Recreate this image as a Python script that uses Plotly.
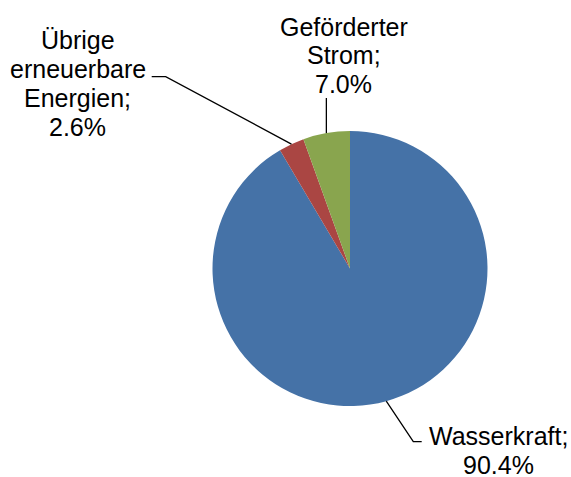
import math
import plotly.graph_objects as go

# Slice order (clockwise from 12 o'clock)
categories = ["Wasserkraft", "Übrige erneuerbare Energien", "Geförderter Strom"]
# Slice sizes as drawn in the picture (share of the circle, %)
slice_values = [91.5, 3.0, 5.5]
# Percentages printed in the data labels
label_percent = ["90.4%", "2.6%", "7.0%"]
# Label line breaks as in the picture
label_lines = [
    ["Wasserkraft;", label_percent[0]],
    ["Übrige", "erneuerbare", "Energien;", label_percent[1]],
    ["Geförderter", "Strom;", label_percent[2]],
]
colors = ["#4572A7", "#AA4643", "#89A54E"]

W, H = 571, 477
CX, CY, R = 350.0, 268.5, 137.5
FONT = dict(family="Liberation Sans, Arial, sans-serif", size=25, color="#000000")
LINE_STEP = 28.8


def px(x, y):
    return x / W, 1 - y / H


fig = go.Figure(
    go.Pie(
        labels=categories,
        values=slice_values,
        sort=False,
        direction="clockwise",
        rotation=0,
        marker=dict(colors=colors, line=dict(width=0)),
        textinfo="none",
        hoverinfo="label+percent",
        showlegend=False,
        domain=dict(
            x=[(CX - R) / W, (CX + R) / W],
            y=[1 - (CY + R) / H, 1 - (CY - R) / H],
        ),
    )
)

# Slice midpoints on the rim (computed from the data)
total = sum(slice_values)
mids = []
acc = 0.0
for v in slice_values:
    a = 2 * math.pi * (acc + v / 2) / total
    mids.append((CX + R * math.sin(a), CY - R * math.cos(a)))
    acc += v

# Label anchor settings: (center x, first line center y), leader elbow points
label_pos = [(498.5, 436.0), (78.0, 40.5), (344.0, 26.5)]
leader_paths = [
    [mids[0], (413.3, 441.7), (421.7, 441.7)],
    [mids[1], (165.7, 76.7), (151.7, 76.7)],
    [(mids[2][0], mids[2][1]), (mids[2][0], 98.0)],
]

shapes = []
for path in leader_paths:
    d = "M " + " L ".join(
        f"{px(x, y)[0]:.5f},{px(x, y)[1]:.5f}" for x, y in path
    )
    shapes.append(
        dict(type="path", xref="paper", yref="paper", path=d,
             line=dict(color="#000000", width=1.3))
    )

annotations = []
for (lx, ly), lines in zip(label_pos, label_lines):
    for k, t in enumerate(lines):
        x, y = px(lx, ly + k * LINE_STEP)
        annotations.append(
            dict(x=x, y=y, xref="paper", yref="paper", text=t,
                 showarrow=False, xanchor="center", yanchor="middle",
                 font=FONT)
        )

fig.update_layout(
    width=W,
    height=H,
    margin=dict(l=0, r=0, t=0, b=0),
    paper_bgcolor="#FFFFFF",
    plot_bgcolor="#FFFFFF",
    shapes=shapes,
    annotations=annotations,
)

fig.write_html(
    "out.html",
    config={"displayModeBar": False},
    post_script="document.body.style.margin='0';document.body.style.overflow='hidden';",
)
